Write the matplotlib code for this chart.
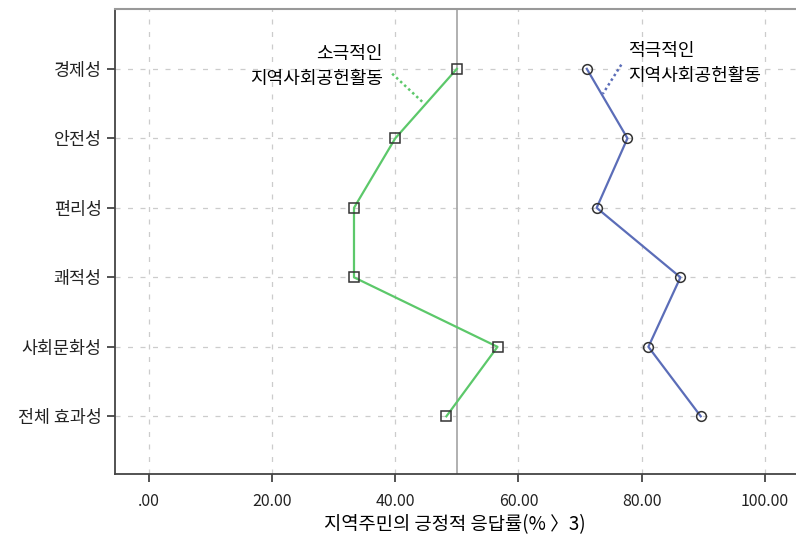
import numpy as np
import matplotlib.pyplot as plt

plt.rcParams['font.family'] = ['Noto Sans CJK KR', 'DejaVu Sans']

# Data
categories = ['경제성', '안전성', '편리성', '쾌적성', '사회문화성', '전체 효과성']
passive = [50.0, 40.0, 33.3, 33.3, 56.6, 48.3]
active = [71.1, 77.7, 72.7, 86.3, 81.1, 89.6]
xticks = [0, 20, 40, 60, 80, 100]
xtick_labels = ['.00', '20.00', '40.00', '60.00', '80.00', '100.00']

GREEN = '#5cc86a'
BLUE = '#5b6db8'

fig = plt.figure(figsize=(7.96, 5.40), dpi=100)
ax = fig.add_axes([0.1445, 0.1222, 0.855, 0.861])

y = np.arange(len(categories))

ax.plot(passive, y, color=GREEN, lw=1.6, marker='s', ms=7,
        mfc='none', mec='#333333', mew=1.1, zorder=3)
ax.plot(active, y, color=BLUE, lw=1.6, marker='o', ms=7,
        mfc='none', mec='#333333', mew=1.1, zorder=3)

ax.axvline(50, color='#aaaaaa', lw=1.3, zorder=2)

ax.set_xlim(-5.5, 105)
ax.set_ylim(5.83, -0.86)
ax.set_yticks(y)
ax.set_yticklabels(categories, fontsize=12.5)
ax.set_xticks(xticks)
ax.set_xticklabels(xtick_labels, fontsize=11.5)
ax.set_xlabel('지역주민의 긍정적 응답률(% 〉3)', fontsize=13.5, labelpad=3)

ax.grid(True, color='#cccccc', ls=(0, (4, 6)), lw=0.9)
ax.set_axisbelow(True)

for side in ['left', 'bottom']:
    ax.spines[side].set_color('#444444')
    ax.spines[side].set_linewidth(1.3)
ax.spines['top'].set_color('#999999')
ax.spines['top'].set_linewidth(1.5)
ax.spines['right'].set_visible(False)
ax.tick_params(axis='both', direction='out', length=6, width=1.3, color='#444444',
               labelcolor='#222222')
ax.tick_params(axis='x', pad=8)

# labels with dotted leader lines
ax.plot([39.5, 44.7], [0.07, 0.50], color=GREEN, ls=(0, (1, 1.2)), lw=1.8)
ax.text(38.0, 0.27, '소극적인\n지역사회공헌활동', ha='right', va='bottom',
        fontsize=13, linespacing=1.5, color='black')
ax.plot([76.7, 73.7], [-0.06, 0.36], color=BLUE, ls=(0, (1, 1.2)), lw=1.8)
ax.text(77.8, 0.23, '적극적인\n지역사회공헌활동', ha='left', va='bottom',
        fontsize=13, linespacing=1.5, color='black')

fig.savefig('out.png', dpi=100, facecolor='white')
